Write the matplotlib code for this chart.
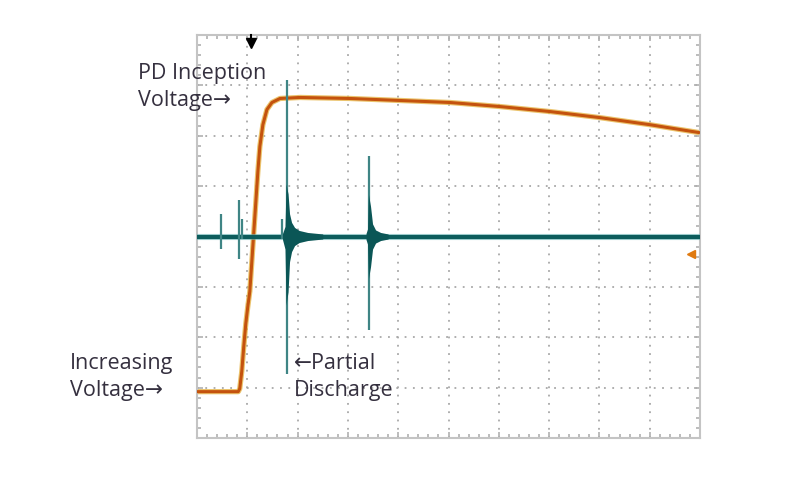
import matplotlib.pyplot as plt
import numpy as np

# scope trace, in screen divisions (10 x 8, centre = 0)
volt_x = [0.00, 0.82, 0.85, 0.89, 0.93, 0.97, 1.01, 1.05, 1.09, 1.13, 1.17, 1.21,
          1.25, 1.31, 1.39, 1.49, 1.65, 2.05, 3.04, 4.04, 5.03, 6.02, 7.02, 8.01, 9.00, 10.00]
volt_y = [-3.08, -3.08, -3.02, -2.68, -2.18, -1.73, -1.39, -1.09, -0.50, 0.10, 0.69, 1.29,
          1.79, 2.22, 2.52, 2.66, 2.74, 2.76, 2.74, 2.70, 2.66, 2.58, 2.48, 2.36, 2.22, 2.06]

pd_base_x = [0.0, 10.0]
pd_base_y = [0.0, 0.0]

# individual discharge spikes: position, top, bottom
spike_x = [0.48, 0.83, 0.89, 1.69, 1.79, 3.42]
spike_top = [0.44, 0.73, 0.34, 0.34, 3.11, 1.59]
spike_bot = [-0.24, -0.44, -0.05, -0.05, -2.72, -1.85]

# ringing envelopes of the two big discharges
burst1_x = [1.70, 1.75, 1.77, 1.81, 1.84, 1.88, 1.94, 2.03, 2.20, 2.50]
burst1_hi = [0.06, 0.20, 1.04, 0.85, 0.45, 0.28, 0.18, 0.12, 0.08, 0.05]
burst1_lo = [-0.06, -0.25, -1.36, -1.10, -0.50, -0.30, -0.18, -0.12, -0.08, -0.05]
burst2_x = [3.36, 3.39, 3.41, 3.45, 3.49, 3.55, 3.65, 3.80]
burst2_hi = [0.06, 0.15, 0.83, 0.60, 0.25, 0.13, 0.08, 0.05]
burst2_lo = [-0.06, -0.15, -0.83, -0.60, -0.25, -0.13, -0.08, -0.05]

fig = plt.figure(figsize=(8.08, 4.78), dpi=100)
ax = fig.add_axes([197 / 808, 1 - 438 / 478, 503 / 808, 403 / 478])

# voltage trace (orange with yellow glow)
ax.plot(volt_x, volt_y, color='#e6b447', lw=3.8, alpha=0.8, solid_capstyle='butt', zorder=2)
ax.plot(volt_x, volt_y, color='#c4520e', lw=2.2, solid_capstyle='butt', zorder=3)

# partial discharge channel (teal)
ax.plot(pd_base_x, pd_base_y, color='#6fbcbc', lw=4.4, alpha=0.6, solid_capstyle='butt', zorder=4)
ax.plot(pd_base_x, pd_base_y, color='#0d5c5c', lw=3.0, solid_capstyle='butt', zorder=5)
ax.vlines(spike_x, spike_bot, spike_top, color='#3f8585', lw=1.6, zorder=6)
ax.fill_between(burst1_x, burst1_lo, burst1_hi, color='#0b5656', lw=0, zorder=6)
ax.fill_between(burst2_x, burst2_lo, burst2_hi, color='#0b5656', lw=0, zorder=6)

# trigger and level markers
ax.plot([1.07], [3.85], marker='v', color='black', ms=7, clip_on=False, zorder=7)
ax.plot([1.07, 1.07], [3.85, 4.0], color='black', lw=1.5, clip_on=False, zorder=7)
ax.plot([9.82], [-0.34], marker='<', color='#e07a10', ms=6, clip_on=False, zorder=7)

ax.set_xlim(0, 10)
ax.set_ylim(-4, 4)
ax.set_xticks(np.arange(0, 11, 1))
ax.set_yticks(np.arange(-4, 5, 1))
ax.set_xticks(np.arange(0, 10.01, 0.2), minor=True)
ax.set_yticks(np.arange(-4, 4.01, 0.2), minor=True)
ax.tick_params(which='both', direction='in', top=True, right=True,
               labelleft=False, labelbottom=False, color='#b0b0b0')
ax.tick_params(which='major', length=4, width=1.2)
ax.tick_params(which='minor', length=3, width=1.2)
ax.grid(True, which='major', color='#a8a8a8', lw=1.3, linestyle=(0, (1, 3.6)))
for s in ax.spines.values():
    s.set_color('#c4c4c4')
    s.set_linewidth(1.5)

txt = dict(fontsize=15.5, color='#35303f', family=['Open Sans', 'DejaVu Sans'],
           va='center', linespacing=1.35)
fig.text(138 / 808, 1 - 87 / 478, 'PD Inception\nVoltage\u2192', **txt)
fig.text(70 / 808, 1 - 377 / 478, 'Increasing\nVoltage\u2192', **txt)
fig.text(294 / 808, 1 - 377 / 478, '\u2190Partial\nDischarge', **txt)

fig.savefig('out.png', dpi=100)
